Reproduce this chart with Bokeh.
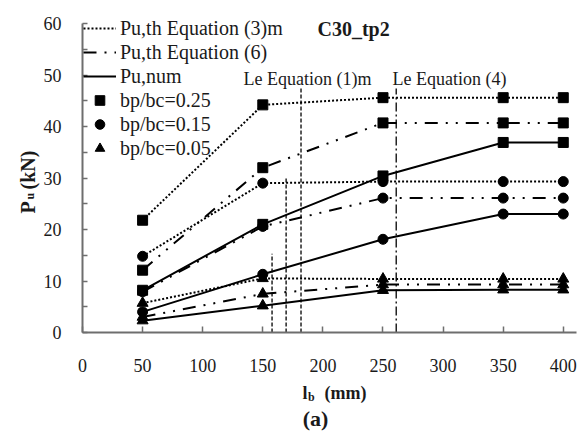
import math
from bokeh.plotting import figure
from bokeh.models import Range1d, FixedTicker, Label, Legend, LegendItem, LinearAxis
from bokeh.embed import file_html
from bokeh.resources import INLINE

# ---- data ----
lb = [50, 150, 250, 350, 400]

th3_025 = [21.8, 44.2, 45.6, 45.6, 45.6]
th6_025 = [12.1, 32.0, 40.7, 40.7, 40.7]
num_025 = [8.2, 21.0, 30.4, 36.9, 36.9]

th3_015 = [14.8, 29.0, 29.3, 29.3, 29.3]
th6_015 = [7.9, 20.6, 26.1, 26.1, 26.1]
num_015 = [4.0, 11.3, 18.1, 23.0, 23.0]

th3_005 = [5.7, 10.5, 10.4, 10.4, 10.4]
th6_005 = [3.0, 7.5, 9.3, 9.3, 9.3]
num_005 = [2.3, 5.2, 8.2, 8.3, 8.3]

le_x = [157.7, 169.4, 181.8, 261.0]
le_top = [15.3, 30.1, 47.4, 47.4]

x_ticks = [0, 50, 100, 150, 200, 250, 300, 350, 400]
y_ticks = [0, 10, 20, 30, 40, 50, 60]
y_minor = [5, 15, 25, 35, 45, 55]

FONT = "Liberation Serif"
TXT = "#1a1a1a"
AX = "#6e6e6e"

# frame covers whole canvas; axes are fixed at x=0 / y=0
W, H = 581, 432
X0PX, Y0PX = 82.0, 332.0
SX = 494.0 / 411.0   # px per mm
SY = 309.0 / 60.0    # px per kN
xr = Range1d(-X0PX / SX, (W - X0PX) / SX)
yr = Range1d(-(H - Y0PX) / SY, Y0PX / SY)

p = figure(width=W, height=H, x_range=xr, y_range=yr,
           output_backend="svg", toolbar_location=None,
           x_axis_location=None, y_axis_location=None,
           min_border=0, min_border_left=0, min_border_right=0,
           min_border_top=0, min_border_bottom=0)
p.xgrid.visible = False
p.ygrid.visible = False
p.outline_line_color = None
p.background_fill_color = "white"

xaxis = LinearAxis(fixed_location=0, bounds=(0, 411),
                   ticker=FixedTicker(ticks=x_ticks, minor_ticks=[]))
yaxis = LinearAxis(fixed_location=0, bounds=(0, 60),
                   ticker=FixedTicker(ticks=y_ticks, minor_ticks=y_minor))
for ax in (xaxis, yaxis):
    ax.axis_line_color = AX
    ax.axis_line_width = 2
    ax.major_tick_line_color = AX
    ax.minor_tick_line_color = AX
    ax.major_tick_line_width = 1.5
    ax.minor_tick_line_width = 1.5
    ax.major_tick_out = 0
    ax.minor_tick_out = 0
    ax.major_label_text_font = FONT
    ax.major_label_text_font_size = "18px"
    ax.major_label_text_color = TXT
xaxis.major_tick_in = 6
yaxis.major_tick_in = 5
yaxis.minor_tick_in = 5
xaxis.major_label_standoff = 26
yaxis.major_label_standoff = 21
p.add_layout(xaxis, "below")
p.add_layout(yaxis, "left")

# vertical reference lines
p.segment(x0=le_x[:3], y0=[0, 0, 0], x1=le_x[:3], y1=le_top[:3],
          line_color="black", line_width=1.3, line_dash="4 2")
p.segment(x0=le_x[3:], y0=[0], x1=le_x[3:], y1=le_top[3:],
          line_color="black", line_width=1.3, line_dash="9 3 2 3")

DOT = "2 2"
DASHDOT = "13 8 2 8 2 8"

series = [(th3_025, th6_025, num_025, "square", 10),
          (th3_015, th6_015, num_015, "circle", 10),
          (th3_005, th6_005, num_005, "triangle", 11)]

line_r = {"th3": [], "th6": [], "num": []}
mark_r = []
for th3, th6, num, mk, sz in series:
    line_r["th3"].append(p.line(lb, th3, line_color="black", line_width=2, line_dash=DOT))
    line_r["th6"].append(p.line(lb, th6, line_color="black", line_width=2, line_dash=DASHDOT))
    line_r["num"].append(p.line(lb, num, line_color="black", line_width=2))
    rs = []
    for ys in (th3, th6, num):
        rs.append(p.scatter(lb, ys, marker=mk, size=sz, fill_color="black", line_color="black"))
    mark_r.append(rs)

legend = Legend(items=[
    LegendItem(label="Pu,th Equation (3)m", renderers=[line_r["th3"][0]]),
    LegendItem(label="Pu,th Equation (6)", renderers=[line_r["th6"][0]]),
    LegendItem(label="Pu,num", renderers=[line_r["num"][0]]),
    LegendItem(label="bp/bc=0.25", renderers=[mark_r[0][0]]),
    LegendItem(label="bp/bc=0.15", renderers=[mark_r[1][0]]),
    LegendItem(label="bp/bc=0.05", renderers=[mark_r[2][0]]),
], location=(83, H - 160))
legend.background_fill_alpha = 0
legend.border_line_alpha = 0
legend.padding = 0
legend.margin = 0
legend.spacing = 0
legend.glyph_width = 33
legend.glyph_height = 24
legend.label_height = 24
legend.label_standoff = 4
legend.label_text_font = FONT
legend.label_text_font_size = "20px"
legend.label_text_color = TXT
p.add_layout(legend)


def px_x(px):
    return (px - X0PX) / SX


def px_y(py):
    return (Y0PX - py) / SY


def lab(xp, yp, text, size, bold=False, align="left", baseline="middle", angle=0.0):
    p.add_layout(Label(x=px_x(xp), y=px_y(yp), text=text, text_font=FONT, text_font_size=size,
                       text_font_style="bold" if bold else "normal", text_color=TXT,
                       text_align=align, text_baseline=baseline, angle=angle))


lab(317, 28, "C30_tp2", "20px", bold=True)
lab(243, 78, "Le Equation (1)m", "18px")
lab(392, 78, "Le Equation (4)", "18px")

# x axis label l_b (mm)
lab(302, 392, "l", "18px", bold=True, baseline="alphabetic")
lab(307.5, 396, "b", "12px", bold=True, baseline="alphabetic")
lab(324, 392, "(mm)", "18px", bold=True, baseline="alphabetic")

# y axis label P_u (kN)
lab(27, 213, "P", "20px", bold=True, baseline="alphabetic", angle=math.pi / 2)
lab(29.5, 199, "u", "12px", bold=True, baseline="alphabetic", angle=math.pi / 2)
lab(27, 189, "(kN)", "20px", bold=True, baseline="alphabetic", angle=math.pi / 2)

lab(315, 418, "(a)", "22px", bold=True, align="center")

open("out.html", "w").write(file_html(p, INLINE))
